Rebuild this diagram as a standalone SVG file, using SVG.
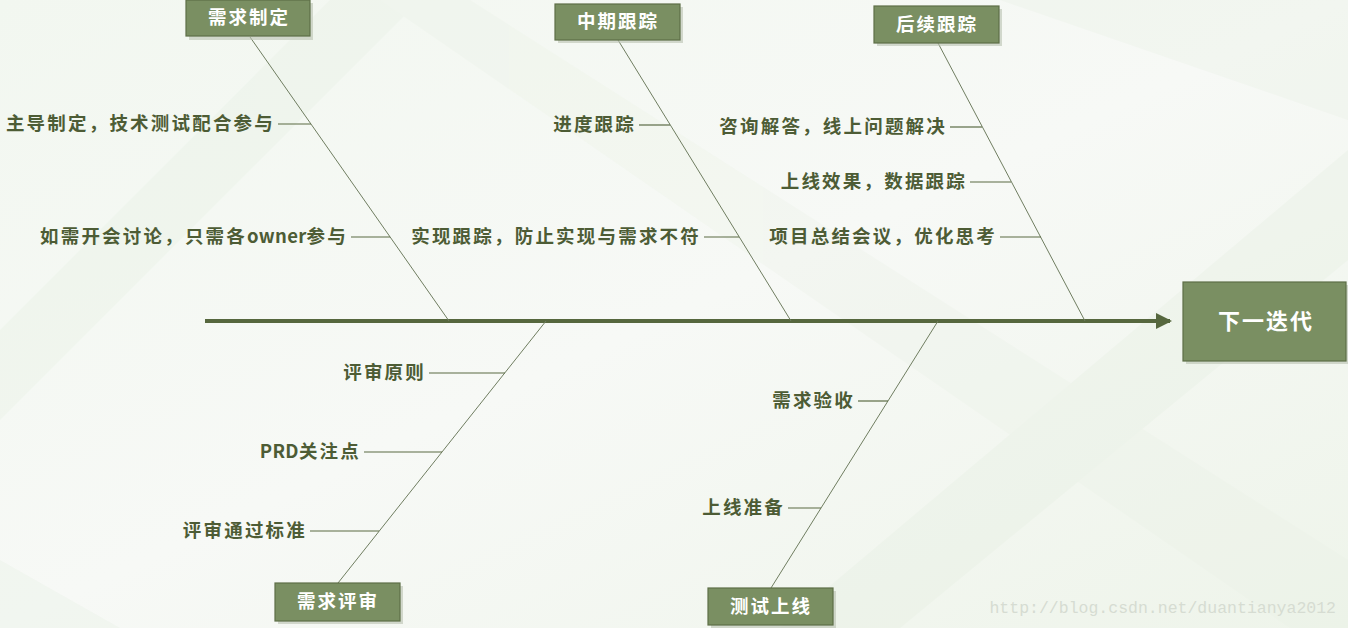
<svg xmlns="http://www.w3.org/2000/svg" width="1348" height="628" viewBox="0 0 1348 628">
<defs>
<style>
.box{fill:#7a8f62;stroke:#5d6e46;stroke-width:1.2}
.shadow{fill:#b9c2b0;opacity:0.6}
.bt{fill:#ffffff;font-family:"Noto Sans CJK SC",sans-serif;font-size:18.5px;font-weight:bold;letter-spacing:2px;text-anchor:middle}
.lbl{fill:#4d5c35;font-family:"Noto Sans CJK SC",sans-serif;font-size:18.5px;font-weight:bold;letter-spacing:2.2px;text-anchor:end}
.lat{letter-spacing:0.3px}
.bone{stroke:#6f7d60;stroke-width:1;fill:none}
.sub{stroke:#5a6b43;stroke-width:1.2;fill:none}
</style>
<marker id="arr" markerWidth="16" markerHeight="16" refX="14" refY="8" orient="auto" markerUnits="userSpaceOnUse" viewBox="0 0 16 16">
<path d="M0,0 L16,8 L0,16 Z" fill="#56673e"/>
</marker>
<linearGradient id="bg" x1="0" y1="0" x2="1" y2="1">
<stop offset="0" stop-color="#f2f7f0"/>
<stop offset="0.5" stop-color="#f7f9f6"/>
<stop offset="1" stop-color="#eef4ea"/>
</linearGradient>
</defs>
<rect x="0" y="0" width="1348" height="628" fill="url(#bg)"/>
<g opacity="0.3">
<polygon points="0,330 330,0 420,0 0,420" fill="#e6efe2"/>
<polygon points="380,0 470,0 1348,560 1348,628 1290,628" fill="#eaf1e6"/>
<polygon points="780,628 1348,150 1348,260 900,628" fill="#e4eee0"/>
<polygon points="1000,0 1348,0 1348,120" fill="#e8f0e4"/>
<polygon points="0,560 120,628 0,628" fill="#e6efe2"/>
</g>
<text x="1336" y="613" font-family="Liberation Mono, monospace" font-size="16.5" fill="#d6dcd2" text-anchor="end">http://blog.csdn.net/duantianya2012</text>
<g id="connectors">
<line x1="205" y1="321" x2="1170" y2="321" stroke="#56673e" stroke-width="4" marker-end="url(#arr)"/>
<line class="bone" x1="250" y1="37" x2="449" y2="321"/>
<line class="bone" x1="618" y1="40" x2="791" y2="321"/>
<line class="bone" x1="938" y1="43" x2="1085" y2="321"/>
<line class="bone" x1="546" y1="321" x2="338" y2="583"/>
<line class="bone" x1="938" y1="321" x2="771" y2="588"/>
<line class="sub" x1="278" y1="124" x2="311" y2="124"/>
<line class="sub" x1="351" y1="237" x2="390" y2="237"/>
<line class="sub" x1="639" y1="125" x2="670" y2="125"/>
<line class="sub" x1="704" y1="237" x2="739" y2="237"/>
<line class="sub" x1="950" y1="127" x2="982" y2="127"/>
<line class="sub" x1="970" y1="182" x2="1011" y2="182"/>
<line class="sub" x1="1000" y1="237" x2="1041" y2="237"/>
<line class="sub" x1="429" y1="373" x2="505" y2="373"/>
<line class="sub" x1="364" y1="452" x2="442" y2="452"/>
<line class="sub" x1="310" y1="531" x2="379" y2="531"/>
<line class="sub" x1="858" y1="401" x2="888" y2="401"/>
<line class="sub" x1="788" y1="508" x2="821" y2="508"/>
</g>
<g id="n-xqzd"><rect class="shadow" x="189" y="3" width="124" height="37"/><rect class="box" x="186" y="0" width="124" height="36"/><text class="bt" x="249" y="24">需求制定</text></g>
<g id="n-zqgz"><rect class="shadow" x="558" y="7" width="125" height="36"/><rect class="box" x="555" y="4" width="125" height="36"/><text class="bt" x="618" y="28">中期跟踪</text></g>
<g id="n-hxgz"><rect class="shadow" x="877" y="9" width="125" height="37"/><rect class="box" x="874" y="6" width="125" height="37"/><text class="bt" x="937" y="31">后续跟踪</text></g>
<g id="n-xqps"><rect class="shadow" x="278" y="586" width="125" height="38"/><rect class="box" x="275" y="583" width="125" height="38"/><text class="bt" x="338" y="608">需求评审</text></g>
<g id="n-csxs"><rect class="shadow" x="711" y="591" width="125" height="37"/><rect class="box" x="708" y="588" width="125" height="37"/><text class="bt" x="771" y="613">测试上线</text></g>
<g id="n-xydd"><rect class="shadow" x="1186" y="285" width="162" height="79"/><rect class="box" x="1183" y="282" width="163" height="79"/><text class="bt" x="1266" y="329" style="font-size:22px">下一迭代</text></g>
<g id="labels">
<text class="lbl" x="275" y="130">主导制定，技术测试配合参与</text>
<text class="lbl" x="348" y="243">如需开会讨论，只需各<tspan class="lat">owner</tspan>参与</text>
<text class="lbl" x="636" y="131">进度跟踪</text>
<text class="lbl" x="701" y="243">实现跟踪，防止实现与需求不符</text>
<text class="lbl" x="947" y="133">咨询解答，线上问题解决</text>
<text class="lbl" x="967" y="188">上线效果，数据跟踪</text>
<text class="lbl" x="997" y="243">项目总结会议，优化思考</text>
<text class="lbl" x="426" y="379">评审原则</text>
<text class="lbl" x="361" y="458"><tspan class="lat">PRD</tspan>关注点</text>
<text class="lbl" x="307" y="537">评审通过标准</text>
<text class="lbl" x="855" y="407">需求验收</text>
<text class="lbl" x="785" y="514">上线准备</text>
</g>
</svg>
